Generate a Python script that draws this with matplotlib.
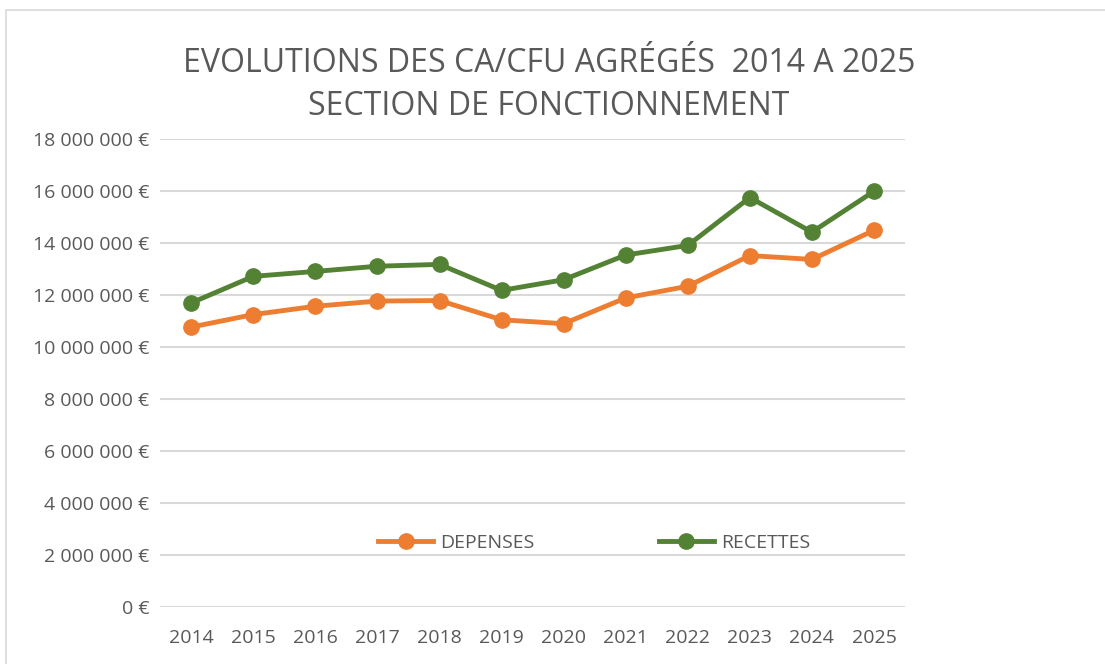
import matplotlib.pyplot as plt
from matplotlib.ticker import FuncFormatter
from matplotlib.patches import Rectangle
from matplotlib import font_manager

# Data
years = ['2014', '2015', '2016', '2017', '2018', '2019', '2020', '2021', '2022', '2023', '2024', '2025']
depenses = [10760000, 11240000, 11560000, 11760000, 11780000, 11040000, 10890000,
            11880000, 12330000, 13510000, 13360000, 14480000]
recettes = [11690000, 12710000, 12900000, 13100000, 13170000, 12170000, 12580000,
            13530000, 13900000, 15740000, 14410000, 15980000]

names = {f.name for f in font_manager.fontManager.ttflist}
font = 'Liberation Sans Narrow' if 'Liberation Sans Narrow' in names else 'Open Sans'
plt.rcParams['font.family'] = [font, 'DejaVu Sans']

text_color = '#595959'
orange = '#ED7D31'
green = '#548235'

fig = plt.figure(figsize=(11.05, 6.64), dpi=100)
ax = fig.add_axes([0.145, 0.086, 0.674, 0.705])

x = range(len(years))
ax.plot(x, depenses, color=orange, lw=3.5, marker='o', markersize=11, label='DEPENSES')
ax.plot(x, recettes, color=green, lw=3.5, marker='o', markersize=11, label='RECETTES')

ax.set_xlim(-0.5, len(years) - 0.5)
ax.set_ylim(0, 18000000)
ax.set_yticks(range(0, 18000001, 2000000))
ax.yaxis.set_major_formatter(FuncFormatter(lambda v, p: f"{int(v):,} €".replace(',', ' ')))
ax.set_xticks(list(x))
ax.set_xticklabels(years)
ax.tick_params(length=0, labelsize=14, colors=text_color)
ax.tick_params(axis='x', pad=16)
ax.tick_params(axis='y', pad=8)
ax.grid(axis='y', color='#D9D9D9', lw=1.5)
ax.set_axisbelow(True)
for s in ax.spines.values():
    s.set_visible(False)

fig.text(0.497, 0.905, 'EVOLUTIONS DES CA/CFU AGRÉGÉS  2014 A 2025', ha='center', va='center',
         fontsize=23, color=text_color)
fig.text(0.497, 0.84, 'SECTION DE FONCTIONNEMENT', ha='center', va='center',
         fontsize=23, color=text_color)

leg = ax.legend(loc='center', bbox_to_anchor=(0.538, 0.182), bbox_transform=fig.transFigure,
                ncol=2, frameon=False, fontsize=14, handlelength=2.8, columnspacing=6.4,
                handletextpad=0.4)
for t in leg.get_texts():
    t.set_color(text_color)

fig.patches.append(Rectangle((0.005, -0.01), 1.1, 0.995, transform=fig.transFigure,
                             fill=False, edgecolor='#D9D9D9', lw=1.2))

fig.savefig('out.png', dpi=100)
